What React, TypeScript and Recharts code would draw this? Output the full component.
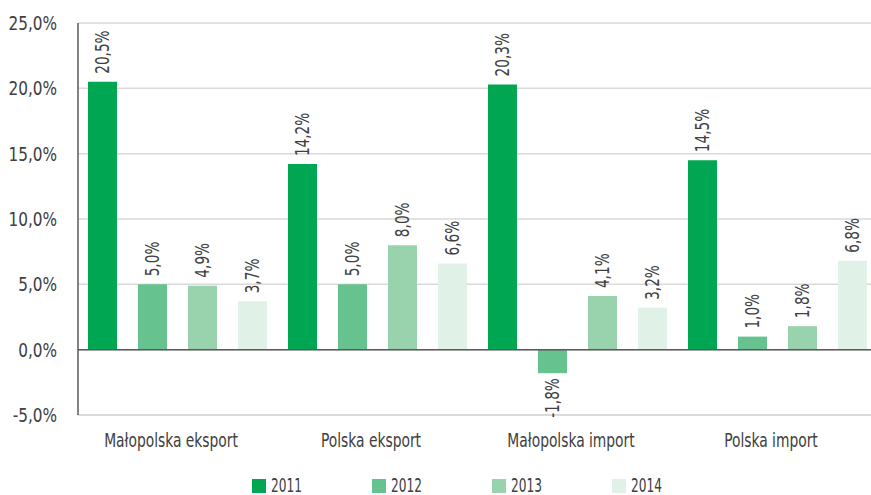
import React from "react";
import { BarChart, Bar, XAxis, YAxis, CartesianGrid, Legend, LabelList, ReferenceLine } from "recharts";

const categories = ["Małopolska eksport", "Polska eksport", "Małopolska import", "Polska import"];
const s2011 = [20.5, 14.2, 20.3, 14.5];
const s2012 = [5.0, 5.0, -1.8, 1.0];
const s2013 = [4.9, 8.0, 4.1, 1.8];
const s2014 = [3.7, 6.6, 3.2, 6.8];
const seriesNames = ["2011", "2012", "2013", "2014"];
const yTicks = [-5, 0, 5, 10, 15, 20, 25];

const colors = ["#00A651", "#66C28E", "#99D3AE", "#E0F2E7"];
const FONT = "'DejaVu Sans Condensed', 'DejaVu Sans', sans-serif";
const TEXT = "#404040";

const data = categories.map((name, i) => ({
  name,
  "2011": s2011[i],
  "2012": s2012[i],
  "2013": s2013[i],
  "2014": s2014[i],
}));

const fmt = (v: number) => v.toFixed(1).replace(".", ",") + "%";

const renderLabel = (props: any) => {
  const { x, y, width, height, value } = props;
  const cx = Number(x) + Number(width) / 2;
  const top = Math.min(Number(y), Number(y) + Number(height));
  const bottom = Math.max(Number(y), Number(y) + Number(height));
  const neg = Number(value) < 0;
  const ty = neg ? bottom + 5 : top - 8;
  return (
    <text
      x={0}
      y={0}
      transform={`translate(${cx} ${ty}) rotate(-90) scale(0.76 1)`}
      textAnchor={neg ? "end" : "start"}
      dominantBaseline="central"
      fill={TEXT}
      fontSize={20}
      fontFamily={FONT}
    >
      {fmt(Number(value))}
    </text>
  );
};

const YTick = (props: any) => {
  const { x, y, payload } = props;
  return (
    <text
      x={0}
      y={0}
      transform={`translate(${x} ${y}) scale(0.85 1)`}
      textAnchor="end"
      dominantBaseline="central"
      fill={TEXT}
      fontSize={20}
      fontFamily={FONT}
    >
      {fmt(Number(payload.value))}
    </text>
  );
};

const XTick = (props: any) => {
  const { x, y, payload } = props;
  return (
    <text
      x={0}
      y={0}
      transform={`translate(${x - 7} ${y + 26}) scale(0.81 1)`}
      textAnchor="middle"
      fill={TEXT}
      fontSize={19}
      fontFamily={FONT}
    >
      {payload.value}
    </text>
  );
};

const renderLegend = () => (
  <div style={{ display: "flex", justifyContent: "flex-start", paddingLeft: 252, paddingTop: 16, height: 19, alignItems: "center", fontFamily: FONT }}>
    {seriesNames.map((n, i) => (
      <div key={n} style={{ display: "flex", alignItems: "center", width: 120 }}>
        <span style={{ display: "inline-block", width: 14, height: 14, background: colors[i], marginRight: 5 }} />
        <span style={{ fontSize: 19, lineHeight: "19px", color: TEXT, display: "inline-block", transform: "scaleX(0.71)", transformOrigin: "left center" }}>{n}</span>
      </div>
    ))}
  </div>
);

export default function App() {
  return (
    <div style={{ position: "absolute", left: 0, top: 0, width: 871, height: 495, overflow: "hidden", background: "#fff" }}>
      <BarChart
        width={878}
        height={495}
        data={data}
        margin={{ top: 23, right: 0, left: 0, bottom: 0 }}
        barCategoryGap={10}
        barGap={21}
      >
        <CartesianGrid vertical={false} stroke="#d9d9d9" strokeWidth={1.5} />
        <XAxis
          dataKey="name"
          height={45}
          axisLine={{ stroke: "#d9d9d9", strokeWidth: 1.5 }}
          tickLine={false}
          tickMargin={0}
          tick={<XTick />}
        />
        <YAxis
          width={78}
          domain={[-5, 25]}
          ticks={yTicks}
          interval={0}
          axisLine={{ stroke: "#595959", strokeWidth: 1.5 }}
          tickLine={false}
          tickMargin={15}
          tick={<YTick />}
        />
        <Legend verticalAlign="bottom" height={35} content={renderLegend} />
        {seriesNames.map((n, i) => (
          <Bar key={n} dataKey={n} fill={colors[i]} isAnimationActive={false}>
            <LabelList dataKey={n} content={renderLabel} />
          </Bar>
        ))}
        <ReferenceLine y={0} stroke="#595959" strokeWidth={1.5} />
      </BarChart>
    </div>
  );
}
